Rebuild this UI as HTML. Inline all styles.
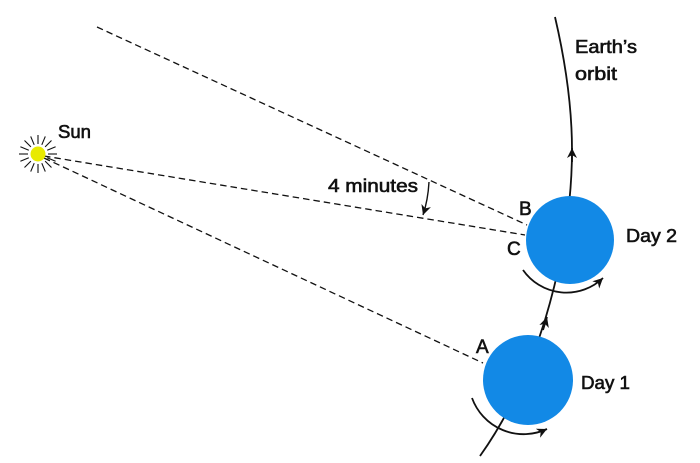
<!DOCTYPE html>
<html>
<head>
<meta charset="utf-8">
<style>
  html,body{margin:0;padding:0;background:#fff;}
  svg{display:block;}
  text{font-family:"Liberation Sans",sans-serif;font-size:18px;fill:#111;stroke:#111;stroke-width:0.6;}
</style>
</head>
<body>
<svg width="700" height="463" viewBox="0 0 700 463" xmlns="http://www.w3.org/2000/svg">
  <defs>
    <marker id="ah" markerWidth="12" markerHeight="10" refX="10" refY="5" orient="auto" markerUnits="userSpaceOnUse">
      <path d="M0,0 L10,5 L0,10 L3,5 Z" fill="#111"/>
    </marker>
  </defs>

  <!-- dashed sight lines -->
  <g stroke="#111" stroke-width="1.3" stroke-dasharray="6.5,4" fill="none">
    <line x1="97" y1="27" x2="527" y2="225"/>
    <line x1="44" y1="156" x2="525" y2="235"/>
    <line x1="44" y1="158" x2="483" y2="363"/>
  </g>

  <!-- Sun -->
  <g stroke="#111" stroke-width="1.1">
    <line x1="48" y1="154" x2="57" y2="154"/>
    <line x1="47.2" y1="157.8" x2="55.6" y2="161.3"/>
    <line x1="45.1" y1="161.1" x2="51.5" y2="167.5"/>
    <line x1="41.8" y1="163.2" x2="45.3" y2="171.6"/>
    <line x1="38" y1="164" x2="38" y2="173"/>
    <line x1="34.2" y1="163.2" x2="30.7" y2="171.6"/>
    <line x1="30.9" y1="161.1" x2="24.5" y2="167.5"/>
    <line x1="28.8" y1="157.8" x2="20.4" y2="161.3"/>
    <line x1="28" y1="154" x2="19" y2="154"/>
    <line x1="28.8" y1="150.2" x2="20.4" y2="146.7"/>
    <line x1="30.9" y1="146.9" x2="24.5" y2="140.5"/>
    <line x1="34.2" y1="144.8" x2="30.7" y2="136.4"/>
    <line x1="38" y1="144" x2="38" y2="135"/>
    <line x1="41.8" y1="144.8" x2="45.3" y2="136.4"/>
    <line x1="45.1" y1="146.9" x2="51.5" y2="140.5"/>
    <line x1="47.2" y1="150.2" x2="55.6" y2="146.7"/>
  </g>
  <circle cx="38" cy="154" r="7.5" fill="#e8ea00"/>

  <!-- Earth's orbit -->
  <path d="M555,17 Q572,90 572,150 Q572,230 545,320 Q520,400 480,456" stroke="#111" stroke-width="1.8" fill="none"/>
  <path d="M572,162 L572,148" stroke="#111" stroke-width="1.8" fill="none" marker-end="url(#ah)"/>
  <path d="M543,330 L547,317" stroke="#111" stroke-width="1.8" fill="none" marker-end="url(#ah)"/>

  <!-- Earth circles -->
  <circle cx="570" cy="240" r="44" fill="#1289e6"/>
  <circle cx="528" cy="380" r="45" fill="#1289e6"/>

  <!-- rotation arrows -->
  <path d="M523,270 A53,53 0 0 0 603,278" stroke="#111" stroke-width="1.8" fill="none" marker-end="url(#ah)"/>
  <path d="M472,398 A55,55 0 0 0 547,429" stroke="#111" stroke-width="1.8" fill="none" marker-end="url(#ah)"/>

  <!-- 4 minutes angle arrow -->
  <path d="M429,182 Q428,200 423,215" stroke="#111" stroke-width="1.4" fill="none" marker-end="url(#ah)"/>

  <!-- labels -->
  <text x="58" y="138" textLength="33" lengthAdjust="spacingAndGlyphs">Sun</text>
  <text x="575" y="53" textLength="62" lengthAdjust="spacingAndGlyphs">Earth’s</text>
  <text x="575" y="80" textLength="42" lengthAdjust="spacingAndGlyphs">orbit</text>
  <text x="328" y="192" textLength="90" lengthAdjust="spacingAndGlyphs">4 minutes</text>
  <text x="519" y="215" style="font-size:19px">B</text>
  <text x="507" y="255" style="font-size:19px">C</text>
  <text x="476" y="353" style="font-size:19px">A</text>
  <text x="626" y="242" textLength="51" lengthAdjust="spacingAndGlyphs">Day 2</text>
  <text x="581" y="389" textLength="49" lengthAdjust="spacingAndGlyphs">Day 1</text>
</svg>
</body>
</html>
